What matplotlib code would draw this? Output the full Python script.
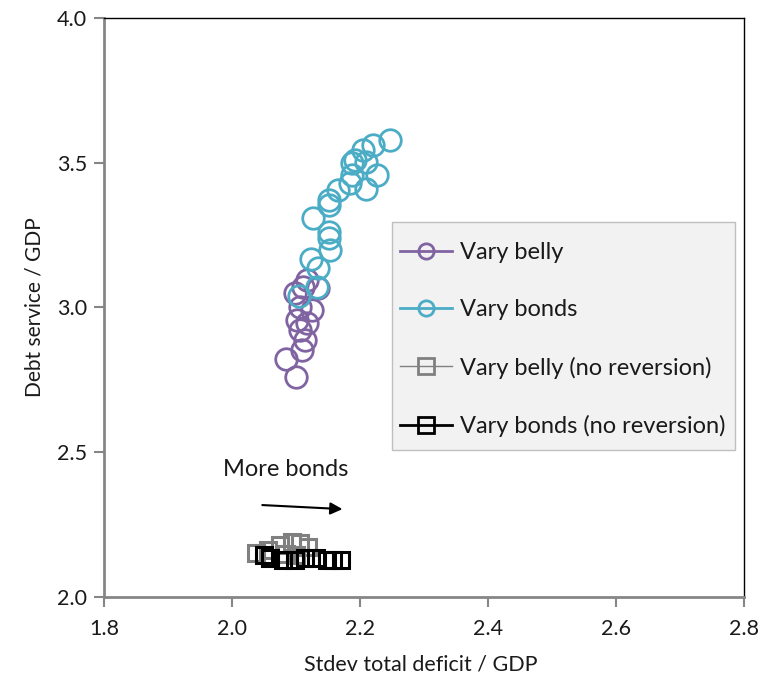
import matplotlib.pyplot as plt
from matplotlib.lines import Line2D
from matplotlib.patches import Rectangle

plt.rcParams['font.family'] = ['Lato', 'DejaVu Sans']

# Vary belly (with mean reversion)
belly_x = [2.100, 2.084, 2.110, 2.114, 2.106, 2.101, 2.117, 2.125, 2.106, 2.099, 2.117, 2.134, 2.111]
belly_y = [2.761, 2.821, 2.853, 2.888, 2.922, 2.957, 2.946, 2.991, 3.003, 3.049, 3.095, 3.067, 3.072]

# Vary bonds (with mean reversion)
bonds_x = [2.105, 2.133, 2.135, 2.123, 2.153, 2.151, 2.151, 2.127, 2.152, 2.151, 2.166,
           2.184, 2.210, 2.226, 2.187, 2.187, 2.192, 2.210, 2.205, 2.221, 2.247]
bonds_y = [3.040, 3.072, 3.135, 3.166, 3.199, 3.239, 3.262, 3.308, 3.354, 3.370, 3.406,
           3.429, 3.411, 3.458, 3.458, 3.498, 3.510, 3.504, 3.544, 3.561, 3.579]

# No mean reversion
belly_nr_x = [2.038, 2.056, 2.075, 2.093, 2.106, 2.119, 2.085, 2.100]
belly_nr_y = [2.151, 2.162, 2.180, 2.191, 2.185, 2.174, 2.150, 2.145]
bonds_nr_x = [2.050, 2.060, 2.079, 2.098, 2.114, 2.132, 2.148, 2.158, 2.171]
bonds_nr_y = [2.145, 2.134, 2.128, 2.128, 2.134, 2.134, 2.128, 2.128, 2.128]

purple = '#8064A2'
aqua = '#4BACC6'
grey = '#808080'
txt = '#1a1a1a'

fig = plt.figure(figsize=(7.72, 6.79), dpi=100)
ax = fig.add_axes([0.1347, 0.1208, 0.829, 0.8527])

circ = dict(marker='o', linestyle='none', markersize=15.5, markerfacecolor='none', markeredgewidth=2)
sq = dict(marker='s', linestyle='none', markersize=11, markerfacecolor='none', markeredgewidth=2.2)

ax.plot(belly_nr_x, belly_nr_y, markeredgecolor=grey, **sq)
ax.plot(bonds_nr_x, bonds_nr_y, markeredgecolor='black', **sq)
ax.plot(belly_x, belly_y, markeredgecolor=purple, **circ)
ax.plot(bonds_x, bonds_y, markeredgecolor=aqua, **circ)

ax.set_xlim(1.8, 2.8)
ax.set_ylim(2.0, 4.0)
ax.set_xticks([1.8, 2.0, 2.2, 2.4, 2.6, 2.8])
ax.set_yticks([2.0, 2.5, 3.0, 3.5, 4.0])
ax.xaxis.set_major_formatter(plt.FormatStrFormatter('%.1f'))
ax.yaxis.set_major_formatter(plt.FormatStrFormatter('%.1f'))
ax.tick_params(direction='out', length=7, width=1.5, color='#868686', labelsize=15.5,
               labelcolor=txt)
ax.tick_params(axis='x', pad=9)
ax.tick_params(axis='y', pad=5)

for side in ('left', 'bottom'):
    ax.spines[side].set_color('#868686')
    ax.spines[side].set_linewidth(2)
for side in ('top', 'right'):
    ax.spines[side].set_color('black')
    ax.spines[side].set_linewidth(1)

ax.set_xlabel('Stdev total deficit / GDP', fontsize=15.5, color=txt, labelpad=10)
ax.set_ylabel('Debt service / GDP', fontsize=15, color=txt, labelpad=9)
ax.xaxis.set_label_coords(0.495, -0.1)

ax.annotate('', xy=(2.177, 2.303), xytext=(2.043, 2.318),
            arrowprops=dict(arrowstyle='-|>', color='black', lw=1.5, mutation_scale=18))
ax.text(1.986, 2.439, 'More bonds', fontsize=17, va='center', ha='left', color=txt)

# legend background box
ax.add_patch(Rectangle((0.45, 0.254), 0.536, 0.394, transform=ax.transAxes,
                       facecolor='#F2F2F2', edgecolor='#BFBFBF', lw=1, zorder=4))

handles = [
    Line2D([], [], color=purple, lw=2, marker='o', markersize=11, markerfacecolor='none',
           markeredgecolor=purple, markeredgewidth=2),
    Line2D([], [], color=aqua, lw=2, marker='o', markersize=11, markerfacecolor='none',
           markeredgecolor=aqua, markeredgewidth=2),
    Line2D([], [], color=grey, lw=1, marker='s', markersize=11, markerfacecolor='none',
           markeredgecolor=grey, markeredgewidth=2),
    Line2D([], [], color='black', lw=2, marker='s', markersize=11, markerfacecolor='none',
           markeredgecolor='black', markeredgewidth=2),
]
labels = ['Vary belly', 'Vary bonds', 'Vary belly (no reversion)', 'Vary bonds (no reversion)']
leg = ax.legend(handles, labels, loc='upper left', bbox_to_anchor=(0.4625, 0.6125),
                fontsize=17, frameon=False, handlelength=2.2, handletextpad=0.35,
                labelspacing=1.53, borderpad=0, borderaxespad=0)
leg.set_zorder(5)
for t in leg.get_texts():
    t.set_color(txt)

fig.savefig('out.png', dpi=100)
